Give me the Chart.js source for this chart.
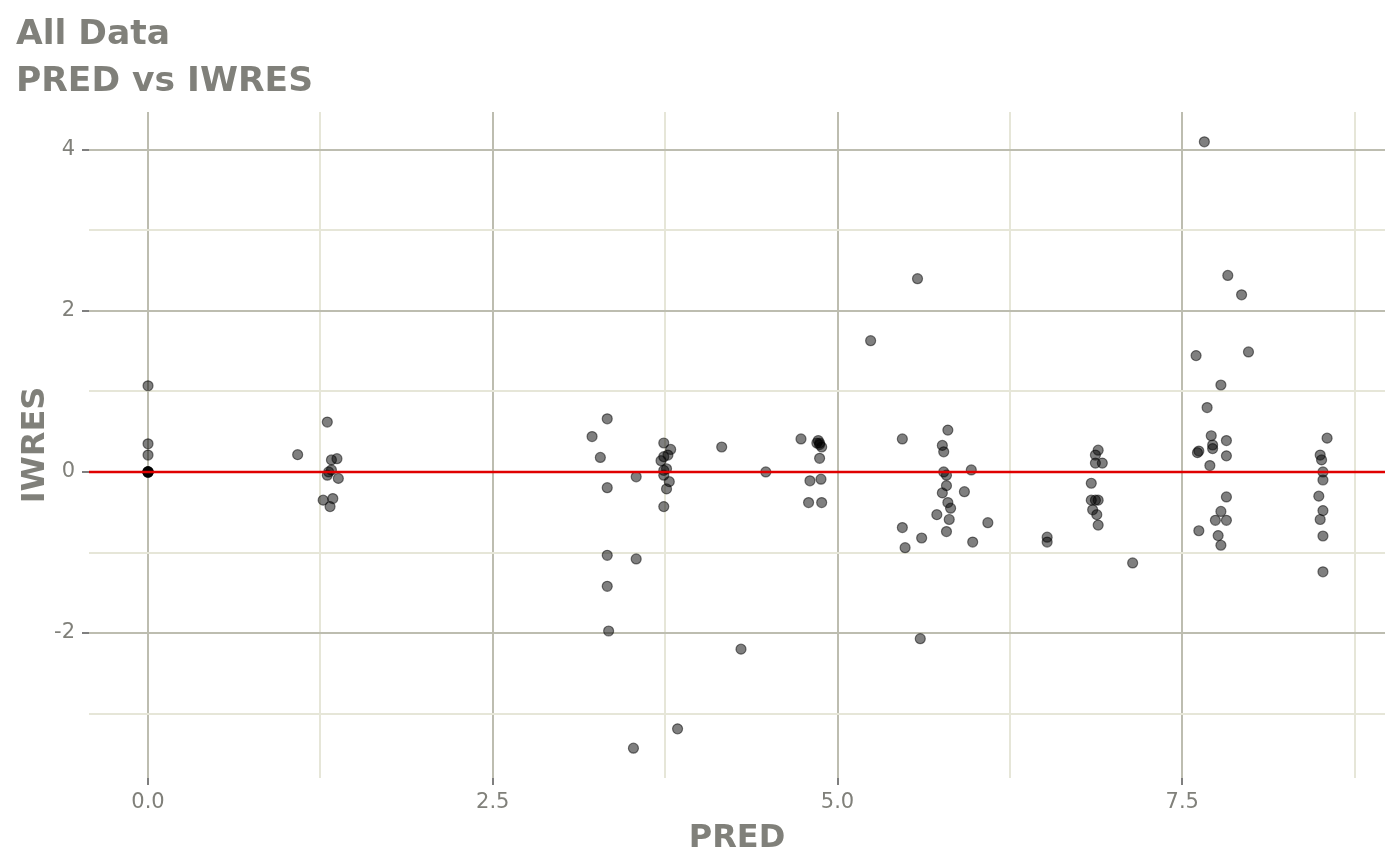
<!DOCTYPE html>
<html>
<head>
<meta charset="utf-8">
<title>PRED vs IWRES</title>
<script src="https://cdn.jsdelivr.net/npm/chart.js@4/dist/chart.umd.min.js"></script>
<style>
  html, body { margin: 0; padding: 0; background: #fff; }
  #wrap { width: 1400px; height: 866px; }
</style>
</head>
<body>
<div id="wrap"><canvas id="chart"></canvas></div>
<script>
/* ---------- Data ---------- */
const pred = [
  0, 0, 0, 0, 0, 0, 0, 0, 0,
  1.30, 1.085, 1.33, 1.37, 1.31, 1.33, 1.30, 1.38, 1.27, 1.34, 1.32,
  3.33, 3.22, 3.28, 3.33, 3.54, 3.74, 3.79, 3.77, 3.74, 3.72, 3.76, 3.74, 3.74,
  3.78, 3.76, 3.74, 3.33, 3.54, 3.33, 3.34, 3.52, 3.84, 4.16, 4.30, 4.48,
  4.735, 4.86, 4.87, 4.85, 4.885, 4.87, 4.87, 4.80, 4.88, 4.79, 4.885,
  5.24, 5.58, 5.60,
  5.47, 5.80, 5.76, 5.77, 5.77, 5.79, 5.97, 5.79, 5.76, 5.92, 5.80, 5.82,
  5.72, 5.81, 6.09, 5.47, 5.79, 5.61, 5.98, 5.49,
  6.52, 6.52,
  6.89, 6.87, 6.87, 6.92, 6.84, 6.84, 6.87, 6.89, 6.85, 6.88, 6.89, 7.14,
  7.60, 7.78, 7.68, 7.71, 7.82, 7.72, 7.72, 7.62, 7.61, 7.82, 7.70, 7.82,
  7.62, 7.78, 7.74, 7.82, 7.76, 7.78, 7.66, 7.83, 7.93, 7.98,
  8.55, 8.50, 8.51, 8.52, 8.52, 8.49, 8.52, 8.50, 8.52, 8.52
];
const iwres = [
  1.07, 0.35, 0.21, 0, 0, 0, 0, 0, 0,
  0.62, 0.215, 0.15, 0.165, 0.0, 0.025, -0.04, -0.08, -0.35, -0.33, -0.43,
  0.66, 0.44, 0.18, -0.195, -0.06, 0.36, 0.28, 0.21, 0.19, 0.14, 0.04, 0.02, -0.04,
  -0.12, -0.21, -0.43, -1.035, -1.08, -1.42, -1.975, -3.43, -3.19, 0.31, -2.20, 0.0,
  0.41, 0.39, 0.36, 0.36, 0.31, 0.34, 0.17, -0.11, -0.09, -0.38, -0.38,
  1.63, 2.40, -2.07,
  0.41, 0.52, 0.33, 0.25, 0.0, -0.04, 0.025, -0.17, -0.26, -0.245, -0.38, -0.45,
  -0.53, -0.59, -0.63, -0.69, -0.74, -0.82, -0.87, -0.94,
  -0.81, -0.87,
  0.27, 0.21, 0.11, 0.11, -0.14, -0.35, -0.35, -0.35, -0.47, -0.53, -0.66, -1.13,
  1.445, 1.08, 0.80, 0.45, 0.39, 0.335, 0.29, 0.26, 0.24, 0.20, 0.08, -0.31,
  -0.73, -0.49, -0.60, -0.60, -0.79, -0.91, 4.10, 2.44, 2.20, 1.49,
  0.42, 0.21, 0.15, 0.0, -0.10, -0.30, -0.48, -0.59, -0.795, -1.24
];

const xMajor = [0, 2.5, 5, 7.5];
const xMinor = [1.25, 3.75, 6.25, 8.75];
const yMajor = [-2, 0, 2, 4];
const yMinor = [-3, -1, 1, 3];
const xRange = [-0.428, 8.97];
const yRange = [-3.80, 4.47];

/* ---------- Styles ---------- */
const GREY_TXT = "#80807a";
const MAJOR = "#bdbdb0";
const MINOR = "#e6e6d8";
const FONT = "'DejaVu Sans', sans-serif";

const points = pred.map((x, i) => ({ x, y: iwres[i] }));

function ticksFrom(major, minor) {
  return scale => {
    scale.ticks = [...major, ...minor].sort((a, b) => a - b).map(v => ({ value: v }));
  };
}

function axis(range, major, minor, fmt, title, pad) {
  return {
    type: "linear",
    min: range[0],
    max: range[1],
    afterBuildTicks: ticksFrom(major, minor),
    border: { display: false },
    grid: {
      lineWidth: 2,
      tickLength: 7,
      color: c => major.includes(c.tick.value) ? MAJOR : MINOR,
      tickColor: c => major.includes(c.tick.value) ? "#7f7f7f" : "rgba(0,0,0,0)"
    },
    ticks: {
      autoSkip: false,
      maxRotation: 0,
      padding: pad,
      color: GREY_TXT,
      font: { family: FONT, size: 21 },
      callback: v => major.includes(v) ? fmt(v) : ""
    },
    title: {
      display: true,
      text: title,
      color: GREY_TXT,
      font: { family: FONT, size: 32, weight: "bold" },
      padding: 0
    }
  };
}

const xAxis = axis(xRange, xMajor, xMinor, v => v.toFixed(1), "PRED", 5);
xAxis.afterFit = s => { s.height = 80; };
const yAxis = axis(yRange, yMajor, yMinor, v => String(v), "IWRES", 7);
yAxis.afterFit = s => { s.width = 73; };

/* ---------- Chart ---------- */
new Chart(document.getElementById("chart"), {
  data: {
    datasets: [
      {
        type: "line",
        data: [{ x: xRange[0], y: 0 }, { x: xRange[1], y: 0 }],
        borderColor: "#e00000",
        borderWidth: 2.5,
        pointRadius: 0
      },
      {
        type: "scatter",
        data: points,
        backgroundColor: "rgba(0,0,0,0.5)",
        borderColor: "rgba(0,0,0,0.5)",
        borderWidth: 1.2,
        pointRadius: 5,
        pointHoverRadius: 5
      }
    ]
  },
  options: {
    responsive: true,
    maintainAspectRatio: false,
    animation: false,
    devicePixelRatio: 1,
    layout: { padding: { left: 16, right: 15, top: 12, bottom: 8 } },
    plugins: {
      legend: { display: false },
      tooltip: { enabled: false },
      title: {
        display: true,
        text: ["All Data", "PRED vs IWRES"],
        align: "start",
        color: GREY_TXT,
        font: { family: FONT, size: 34.5, weight: "bold", lineHeight: 1.362 },
        padding: { top: 0, bottom: 6 }
      }
    },
    scales: { x: xAxis, y: yAxis }
  }
});
</script>
</body>
</html>
